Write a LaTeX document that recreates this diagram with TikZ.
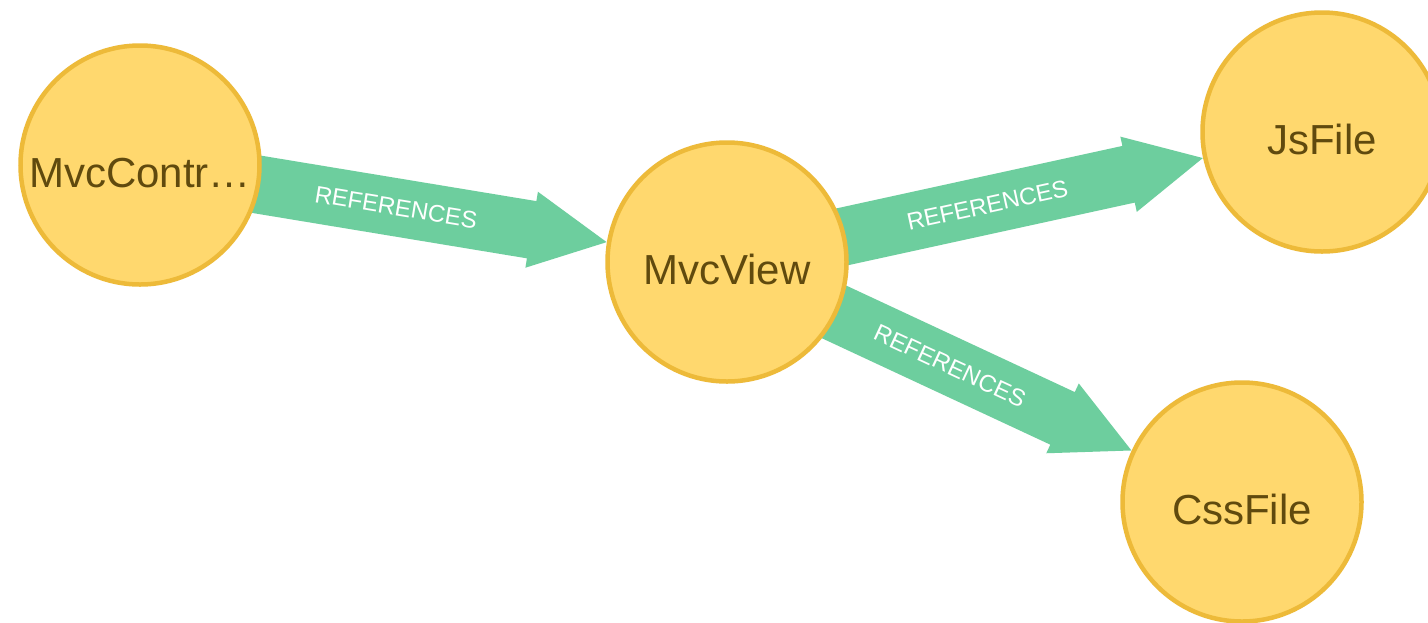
\documentclass[tikz,border=0pt]{standalone}
\usepackage{fontspec}
\setmainfont{Liberation Sans}
\usetikzlibrary{calc,backgrounds}
\definecolor{nodefill}{HTML}{FFD86E}
\definecolor{nodeline}{HTML}{EDBA39}
\definecolor{nodetext}{HTML}{604A0E}
\definecolor{relfill}{HTML}{6DCE9E}
\tikzset{
  entity/.style={circle, fill=nodefill, draw=nodeline, line width=4.5pt,
    minimum size=239pt, inner sep=0pt, text=nodetext,
    font=\fontsize{42}{50}\selectfont, text height=44pt, text depth=0pt},
  relbody/.style={fill=relfill},
  rellabel/.style={text=white, font=\fontsize{24}{28}\selectfont,
    sloped, inner sep=0pt},
}
% Wide relationship arrow from node #1 to node #2, labelled along its shaft
\newcommand{\refarrow}[2]{%
  \coordinate (#1#2s) at ($(#1)!122pt!(#2)$);
  \coordinate (#1#2t) at ($(#2)!122pt!(#1)$);
  \coordinate (#1#2h) at ($(#2)!198pt!(#1)$);
  \fill[relbody]
    ($(#1)!29pt!90:(#2)$) --
    ($(#1#2h)!29pt!90:(#2)$) --
    ($(#1#2h)!38.5pt!90:(#2)$) --
    (#1#2t) --
    ($(#1#2h)!38.5pt!-90:(#2)$) --
    ($(#1#2h)!29pt!-90:(#2)$) --
    ($(#1)!29pt!-90:(#2)$) -- cycle;
  \path (#1#2s) -- (#1#2h) node[midway, rellabel] {REFERENCES};
}
\begin{document}
\begin{tikzpicture}[x=1pt, y=-1pt]
  \useasboundingbox (0,0) rectangle (1428,622);
  \clip (0,0) rectangle (1428,622);

  \node[entity] (ctrl) at (140,165) {MvcContr…};
  \node[entity] (view) at (727,262) {MvcView};
  \node[entity] (js)   at (1322,132) {JsFile};
  \node[entity] (css)  at (1242,502) {CssFile};

  \begin{scope}[on background layer]
    \fill[white] (0,0) rectangle (1428,622);
    \refarrow{ctrl}{view}
    \refarrow{view}{js}
    \refarrow{view}{css}
  \end{scope}
\end{tikzpicture}
\end{document}
